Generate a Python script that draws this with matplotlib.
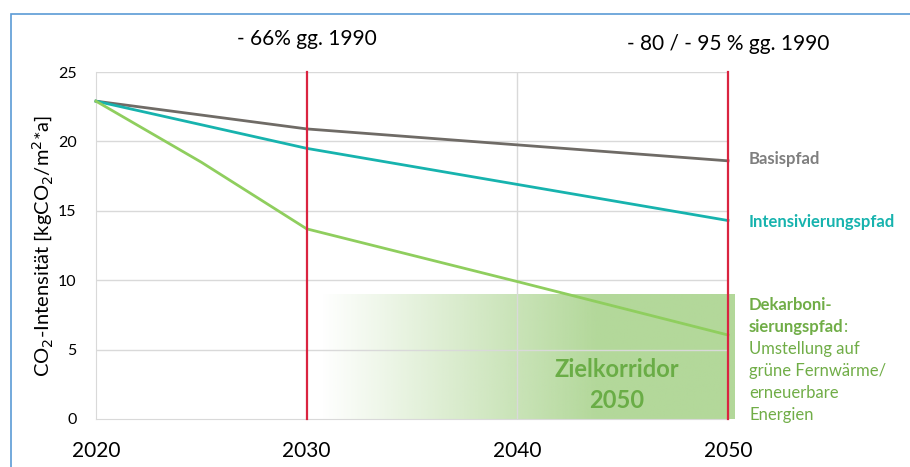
import matplotlib
matplotlib.use("Agg")
import matplotlib.pyplot as plt
import numpy as np
from matplotlib.patches import Rectangle

plt.rcParams['font.family'] = ['Lato', 'DejaVu Sans']

# data
years = [2020, 2025, 2030, 2040, 2050]
basis = [22.9, 21.9, 20.9, 19.75, 18.6]
intensiv = [22.9, 21.2, 19.5, 16.9, 14.3]
dekarb = [22.9, 18.5, 13.7, 9.9, 6.05]
target_years = [2030, 2050]
corridor_top = 9
corridor_end = 2050.3

grey = '#6f6b66'
teal = '#17b3ae'
green_line = '#8fce5e'
green_txt = '#70ad47'
red = '#da2440'

fig = plt.figure(figsize=(9.1, 4.67), dpi=100)
ax = fig.add_axes([0.1055, 0.1028, 0.6945, 0.743])

# blue outer frame
fig.patches.append(Rectangle((11 / 910, -0.1), 1.2, 1 - 14 / 467 + 0.1,
                             transform=fig.transFigure, fill=False,
                             edgecolor='#5b9bd5', linewidth=1.2))

# Zielkorridor gradient box
ramp = np.clip(np.linspace(-0.05, 1.5, 300), 0, 1)
rgba = np.zeros((1, 300, 4))
rgba[..., 0] = 0xb3 / 255
rgba[..., 1] = 0xd8 / 255
rgba[..., 2] = 0x9a / 255
rgba[..., 3] = ramp
ax.imshow(rgba, extent=[target_years[0], corridor_end, 0, corridor_top],
          aspect='auto', zorder=1, clip_on=False, interpolation='bilinear')

ax.set_xlim(2020, 2050)
ax.set_ylim(0, 25)

for y in [5, 10, 15, 20, 25]:
    ax.axhline(y, color='#d9d9d9', lw=1, zorder=1.5)
ax.axvline(2040, color='#d9d9d9', lw=1, zorder=1.5)

ax.plot(years, basis, color=grey, lw=2, zorder=3, clip_on=False)
ax.plot(years, intensiv, color=teal, lw=2, zorder=3, clip_on=False)
ax.plot(years, dekarb, color=green_line, lw=2, zorder=3, clip_on=False)

for x in target_years:
    ax.axvline(x, color=red, lw=1.6, zorder=4, clip_on=False)

for s in ['top', 'right']:
    ax.spines[s].set_visible(False)
for s in ['left', 'bottom']:
    ax.spines[s].set_color('#d9d9d9')

ax.set_xticks([2020, 2030, 2040, 2050])
ax.set_yticks([0, 5, 10, 15, 20, 25])
ax.tick_params(length=0)
ax.tick_params(axis='x', labelsize=15, pad=16)
ax.tick_params(axis='y', labelsize=11.5, pad=14)

ax.set_ylabel('CO$_2$-Intensität [kgCO$_2$/m$^2$*a]', fontsize=14.5, labelpad=2)

ax.text(2030, 27.4, '- 66% gg. 1990', ha='center', va='center', fontsize=15)
ax.text(2050, 27.0, '- 80 / - 95 % gg. 1990', ha='center', va='center', fontsize=15)

ax.text(2044.7, 3.6, 'Zielkorridor', ha='center', va='center', fontsize=17,
        fontweight='bold', color='#6aad46', zorder=2)
ax.text(2044.7, 1.35, '2050', ha='center', va='center', fontsize=17,
        fontweight='bold', color='#6aad46', zorder=2)

# series labels at the right
xl = 2051.0
fs = 12
ax.text(xl, basis[-1] + 0.1, 'Basispfad', color='#7f7f7f', fontsize=fs,
        fontweight='bold', va='center', clip_on=False)
ax.text(xl, intensiv[-1] - 0.1, 'Intensivierungspfad', color=teal, fontsize=fs,
        fontweight='bold', va='center', clip_on=False)
lines = [('Dekarboni-', 'bold'), ('sierungspfad', 'bold'),
         ('Umstellung auf', 'normal'), ('grüne Fernwärme/', 'normal'),
         ('erneuerbare', 'normal'), ('Energien', 'normal')]
txts = []
for i, (t, w) in enumerate(lines):
    txts.append(ax.text(xl, 8.2 - i * 1.585, t, color=green_txt, fontsize=fs,
                        fontweight=w, va='center', clip_on=False))

# colon right after the bold "sierungspfad"
fig.canvas.draw()
bb = txts[1].get_window_extent()
x_end = ax.transData.inverted().transform((bb.x1, bb.y0))[0]
ax.text(x_end, 8.2 - 1.585, ':', color=green_txt, fontsize=fs,
        va='center', clip_on=False)

fig.savefig('out.png', dpi=100)
